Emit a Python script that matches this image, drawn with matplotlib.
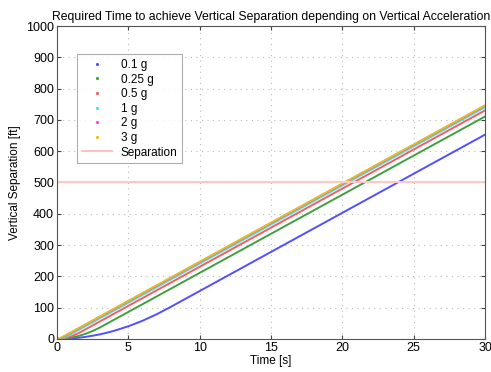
import matplotlib.pyplot as plt
from matplotlib.lines import Line2D

plt.rcParams['font.family'] = ['Liberation Sans', 'DejaVu Sans']

# time samples [s] and vertical separation [ft]
t = [0, 0.25, 0.5, 0.75, 1, 1.5, 2, 2.5, 3, 3.5, 4, 5, 6, 7, 8, 10, 15, 20, 25, 30]
sep_01g = [0, 0.1, 0.4, 0.9, 1.6, 3.6, 6.4, 10.1, 14.5, 19.7, 25.8, 40.3, 58, 79, 103, 153, 278, 403, 528, 653]
sep_025g = [0, 0.25, 1.0, 2.3, 4.0, 9.1, 16.1, 25.2, 36.2, 48.6, 61.2, 86, 111, 136, 161, 211, 336, 461, 586, 711]
sep_05g = [0, 0.5, 2.0, 4.5, 8.0, 18.1, 30.6, 43.1, 55.6, 68.1, 80.6, 105.6, 130.6, 155.6, 180.6, 230.6, 355.6, 480.6, 605.6, 730.6]
sep_1g = [0, 1.0, 4.0, 9.1, 15.3, 27.8, 40.3, 52.8, 65.3, 77.8, 90.3, 115.3, 140.3, 165.3, 190.3, 240.3, 365.3, 490.3, 615.3, 740.3]
sep_2g = [0, 2.0, 7.6, 13.9, 20.2, 32.7, 45.2, 57.7, 70.2, 82.7, 95.2, 120.2, 145.2, 170.2, 195.2, 245.2, 370.2, 495.2, 620.2, 745.2]
sep_3g = [0, 3.0, 9.3, 15.6, 21.8, 34.3, 46.8, 59.3, 71.8, 84.3, 96.8, 121.8, 146.8, 171.8, 196.8, 246.8, 371.8, 496.8, 621.8, 746.8]
labels = ['0.1 g', '0.25 g', '0.5 g', '1 g', '2 g', '3 g']
colors = ['#5050ff', '#40a040', '#ff5a5a', '#50e0e0', '#e050e0', '#e0c020']
separation = 500

fig = plt.figure(figsize=(4.91, 3.72), dpi=100)
ax = fig.add_axes([0.116, 0.089, 0.872, 0.841])

series = [sep_01g, sep_025g, sep_05g, sep_1g, sep_2g, sep_3g]
handles = []
for y, c, lab in zip(series, colors, labels):
    ax.plot(t, y, color=c, lw=1.4)
    handles.append(Line2D([], [], color=c, marker='.', ms=2.5, ls='none', label=lab))
ax.axhline(separation, color='#ffc8c8', lw=1.5)
handles.append(Line2D([], [], color='#ffb4b4', lw=1.2, label='Separation'))

ax.set_xlim(0, 30)
ax.set_ylim(0, 1000)
ax.set_xticks(range(0, 31, 5))
ax.set_yticks(range(0, 1001, 100))
ax.grid(True, ls=(0, (1, 4)), color='#bbbbbb', lw=0.8)
ax.tick_params(direction='in', top=True, right=True, labelsize=9, length=3, color='#444444', pad=2)
for s in ax.spines.values():
    s.set_color('#555555')
    s.set_linewidth(0.8)

ax.set_title('Required Time to achieve Vertical Separation depending on Vertical Acceleration',
             fontsize=8.8, pad=4)
ax.set_xlabel('Time [s]', fontsize=8.5, labelpad=1)
ax.set_ylabel('Vertical Separation [ft]', fontsize=8.5, labelpad=4)

leg = ax.legend(handles=handles, loc='upper left', bbox_to_anchor=(0.047, 0.91),
                borderaxespad=0, fancybox=False, fontsize=8.5, handlelength=2.6,
                labelspacing=0.22, borderpad=0.4, handletextpad=0.7)
leg.get_frame().set_edgecolor('#999999')
leg.get_frame().set_linewidth(0.8)

fig.savefig('out.png', dpi=100)
